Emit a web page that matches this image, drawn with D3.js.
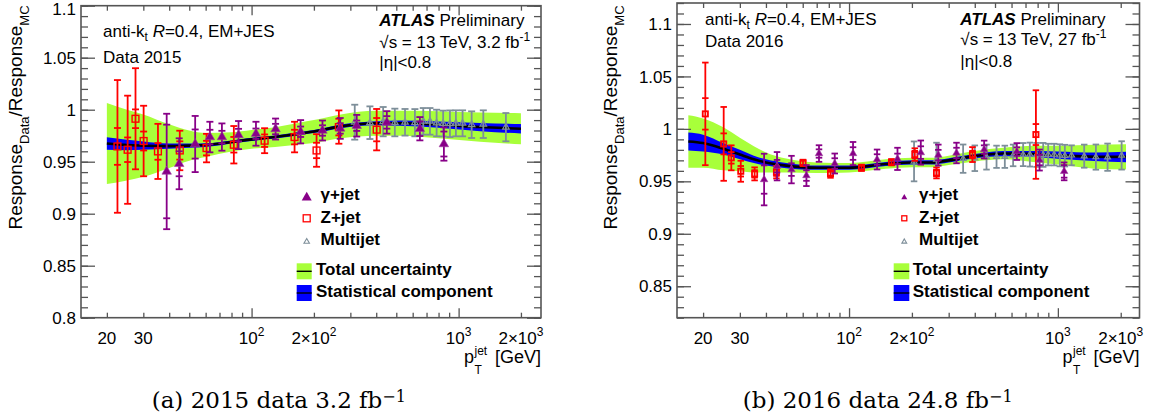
<!DOCTYPE html>
<html><head><meta charset="utf-8">
<script src="https://cdn.jsdelivr.net/npm/d3@7"></script>
<style>
body{margin:0;background:#fff}
svg{display:block}
text{font-family:"Liberation Sans",Arial,Helvetica,sans-serif;fill:#000}
</style>
</head><body>
<svg id="c" width="1156" height="419"></svg>
<script>
// ---------------- DATA ----------------
// Axis ticks
const xTickMajor = [100, 1000];
const xTickMinor = [20,30,40,50,60,70,80,90,200,300,400,500,600,700,800,900,2000];
const xTickLabelVals = [20, 30, 100, 200, 1000, 2000];
const xTickLabelBase = ["20", "30", "10", "2\u00d710", "10", "2\u00d710"];
const xTickLabelSup  = ["", "", "2", "2", "3", "3"];
const yTickVals15 = [0.8, 0.85, 0.9, 0.95, 1.0, 1.05, 1.1];
const yTickLabels15 = ["0.8", "0.85", "0.9", "0.95", "1", "1.05", "1.1"];
const yTickVals16 = [0.85, 0.9, 0.95, 1.0, 1.05, 1.1];
const yTickLabels16 = ["0.85", "0.9", "0.95", "1", "1.05", "1.1"];

// ---- 2015 ----
const zPt15   = [22.5, 25.2, 27.5, 30.1, 35.3, 45.0, 60.6, 82.1, 115.6, 161.3, 206, 264, 402];
const zVal15  = [0.9647, 0.9615, 0.9913, 0.9699, 0.9599, 0.9608, 0.9631, 0.9663, 0.9702, 0.9737, 0.9608, 0.9833, 0.9808];
const zTot15  = [0.0638, 0.052, 0.0486, 0.0339, 0.0265, 0.019, 0.0137, 0.018, 0.012, 0.0147, 0.0157, 0.016, 0.0199];
const zStat15 = [0.0177, 0.0118, 0.009, 0.0091, 0.008, 0.0088, 0.007, 0.0075, 0.006, 0.007, 0.0074, 0.008, 0.0112];

const gPt15   = [38.9, 44.7, 53.4, 62.9, 71.9, 86.5, 105, 130.6, 172.5, 220, 268, 322, 450, 650, 849];
const gVal15  = [0.9406, 0.948, 0.967, 0.9737, 0.9737, 0.9756, 0.9769, 0.9814, 0.9788, 0.980, 0.982, 0.9846, 0.9878, 0.9817, 0.967];
const gTot15  = [0.0555, 0.0245, 0.027, 0.0147, 0.0131, 0.0135, 0.0115, 0.0101, 0.0112, 0.0096, 0.010, 0.0104, 0.0108, 0.0112, 0.016];
const gStat15 = [0.045, 0.012, 0.014, 0.007, 0.006, 0.006, 0.005, 0.005, 0.005, 0.005, 0.005, 0.005, 0.006, 0.007, 0.012];

const mPt15  = [315, 373, 432, 492, 551, 615, 675, 727, 783, 842, 908, 970, 1045, 1156, 1316, 1692];
const mVal15 = [0.988, 0.9875, 0.9885, 0.9877, 0.9879, 0.9875, 0.9888, 0.9888, 0.9872, 0.9867, 0.9865, 0.9869, 0.9869, 0.9856, 0.9861, 0.9832];
const mTot15 = [0.0168, 0.0157, 0.0141, 0.0133, 0.0128, 0.0131, 0.0128, 0.0128, 0.0128, 0.0124, 0.0128, 0.0125, 0.0125, 0.0128, 0.0133, 0.0136];

const bandPt15   = [20, 25, 30, 40, 50, 60, 80, 100, 130, 170, 200, 270, 400, 520, 800, 1270, 2000];
const center15   = [0.9675, 0.966, 0.9655, 0.965, 0.9655, 0.966, 0.969, 0.9715, 0.9737, 0.977, 0.979, 0.984, 0.987, 0.987, 0.9856, 0.9833, 0.9817];
const totHalf15  = [0.039, 0.034, 0.030, 0.021, 0.0145, 0.0115, 0.0092, 0.009, 0.0095, 0.0105, 0.011, 0.0115, 0.012, 0.012, 0.013, 0.014, 0.015];
const statHalf15 = [0.006, 0.005, 0.004, 0.0025, 0.002, 0.0018, 0.0015, 0.0015, 0.0015, 0.0015, 0.0015, 0.0018, 0.002, 0.0025, 0.003, 0.004, 0.0045];

// ---- 2016 ----
const zPt16   = [20.5, 25.1, 27.3, 30.3, 35.3, 44.9, 60.2, 81.5, 114.7, 159.7, 206.5, 262.3, 390, 785];
const zVal16  = [1.0143, 0.9857, 0.9724, 0.9596, 0.9571, 0.9587, 0.9676, 0.9574, 0.9629, 0.9682, 0.9755, 0.958, 0.9755, 0.9946];
const zTot16  = [0.0489, 0.0352, 0.0119, 0.010, 0.0062, 0.0059, 0.003, 0.004, 0.003, 0.003, 0.006, 0.0052, 0.0071, 0.0422];
const zStat16 = [0.015, 0.010, 0.0055, 0.005, 0.0035, 0.0035, 0.002, 0.002, 0.002, 0.002, 0.0035, 0.003, 0.0035, 0.010];

const gPt16   = [39.2, 45.2, 53, 62.5, 71.8, 85.4, 104.5, 136.2, 170.6, 220.6, 267.6, 327, 443.6, 636, 817, 1072];
const gVal16  = [0.9517, 0.9644, 0.9612, 0.9555, 0.9765, 0.967, 0.9765, 0.9708, 0.9714, 0.9774, 0.975, 0.977, 0.9803, 0.9784, 0.9703, 0.9595];
const gTot16  = [0.0246, 0.0135, 0.0131, 0.010, 0.0079, 0.0095, 0.011, 0.0095, 0.0106, 0.0115, 0.010, 0.0098, 0.0085, 0.008, 0.010, 0.0085];
const gStat16 = [0.0135, 0.006, 0.006, 0.005, 0.004, 0.005, 0.006, 0.005, 0.005, 0.006, 0.005, 0.005, 0.004, 0.004, 0.005, 0.006];

const mPt16  = [204.8, 262.3, 351.8, 400.2, 455.3, 508.5, 557.2, 610.6, 681.9, 734.3, 790.6, 850.6, 898.7, 960, 1022, 1080, 1163, 1337, 1521, 1730, 2020];
const mVal16 = [0.969, 0.9708, 0.9716, 0.972, 0.9731, 0.9734, 0.9734, 0.9747, 0.9755, 0.9755, 0.9752, 0.9752, 0.9755, 0.9755, 0.9748, 0.9745, 0.9748, 0.974, 0.9731, 0.973, 0.9747];
const mTot16 = [0.019, 0.016, 0.0135, 0.0122, 0.0119, 0.0106, 0.0106, 0.0103, 0.011, 0.0114, 0.0114, 0.0114, 0.0103, 0.0103, 0.0105, 0.0103, 0.0095, 0.011, 0.012, 0.013, 0.0135];

const bandPt16   = [17, 20, 25, 30, 35, 40, 50, 70, 100, 150, 200, 250, 300, 400, 550, 800, 1000, 1500, 2120];
const center16   = [0.988, 0.9865, 0.981, 0.9755, 0.971, 0.968, 0.965, 0.963, 0.963, 0.9665, 0.968, 0.968, 0.970, 0.974, 0.9765, 0.976, 0.975, 0.9735, 0.9733];
const totHalf16  = [0.025, 0.0235, 0.0205, 0.016, 0.0125, 0.0095, 0.0067, 0.005, 0.0045, 0.0045, 0.0045, 0.0045, 0.0045, 0.005, 0.0055, 0.008, 0.009, 0.0114, 0.012];
const statHalf16 = [0.0085, 0.008, 0.0055, 0.0045, 0.0035, 0.003, 0.0025, 0.002, 0.002, 0.002, 0.002, 0.002, 0.002, 0.002, 0.0025, 0.003, 0.0035, 0.004, 0.005];

const legendLabels = ["\u03b3+jet", "Z+jet", "Multijet", "Total uncertainty", "Statistical component"];

// ---------------- STYLE ----------------
const C = {green:"#a8ff3a", blue:"#0000ff", red:"#ff0000", purple:"#880088", gray:"#7d8e99", axis:"#555"};

const svg = d3.select("#c");

function rich(g, x, y, parts, attrs) {
  const t = g.append("text").attr("x", x).attr("y", y);
  for (const k in (attrs||{})) t.attr(k, attrs[k]);
  let cur = 0;
  parts.forEach(p => {
    const s = t.append("tspan").text(p.t);
    const sh = p.shift || 0;
    s.attr("dy", sh - cur); cur = sh;
    if (p.size) s.attr("font-size", p.size);
    if (p.weight) s.attr("font-weight", p.weight);
    if (p.style) s.attr("font-style", p.style);
  });
  return t;
}

function triPath(w) {
  const area = Math.sqrt(3) / 4 * w * w;
  return d3.symbol().type(d3.symbolTriangle).size(area)();
}

function drawPanel(P) {
  const g = svg.append("g");
  const x = d3.scaleLog().domain(P.xDomain).range([P.left, P.right]);
  const y = d3.scaleLinear().domain(P.yDomain).range([P.bottom, P.top]);

  // bands
  const band = P.bandPt.map((pt, i) => ({pt, c: P.center[i], t: P.totHalf[i], s: P.statHalf[i]}));
  const cv = d3.curveMonotoneX;
  g.append("path").datum(band).attr("fill", C.green)
    .attr("d", d3.area().x(d => x(d.pt)).y0(d => y(d.c - d.t)).y1(d => y(d.c + d.t)).curve(cv));
  g.append("path").datum(band).attr("fill", C.blue)
    .attr("d", d3.area().x(d => x(d.pt)).y0(d => y(d.c - d.s)).y1(d => y(d.c + d.s)).curve(cv));
  g.append("path").datum(band).attr("fill", "none").attr("stroke", "#000").attr("stroke-width", 2.6)
    .attr("d", d3.line().x(d => x(d.pt)).y(d => y(d.c)).curve(cv));

  // series
  function series(pts, vals, tots, stats, color, marker, ms, cap, lw, sqw) {
    const data = pts.map((pt, i) => ({pt, v: vals[i], t: tots[i], s: stats ? stats[i] : null}));
    const sg = g.append("g").attr("stroke", color).attr("stroke-width", lw);
    data.forEach(d => {
      const cx = x(d.pt);
      sg.append("line").attr("x1", cx).attr("x2", cx).attr("y1", y(d.v - d.t)).attr("y2", y(d.v + d.t));
      [d.v - d.t, d.v + d.t].forEach(e => sg.append("line")
        .attr("x1", cx - cap / 2).attr("x2", cx + cap / 2).attr("y1", y(e)).attr("y2", y(e)));
      if (d.s !== null) [d.v - d.s, d.v + d.s].forEach(e => sg.append("line")
        .attr("x1", cx - cap / 2).attr("x2", cx + cap / 2).attr("y1", y(e)).attr("y2", y(e)));
    });
    const mg = g.append("g");
    data.forEach(d => {
      const cx = x(d.pt), cy = y(d.v);
      if (marker === "ftri") {
        mg.append("path").attr("d", triPath(ms)).attr("transform", `translate(${cx},${cy})`)
          .attr("fill", color).attr("stroke", "#a040a0").attr("stroke-width", 0.6);
      } else if (marker === "otri") {
        mg.append("path").attr("d", triPath(ms)).attr("transform", `translate(${cx},${cy})`)
          .attr("fill", "none").attr("stroke", color).attr("stroke-width", 1.2);
      } else {
        mg.append("rect").attr("x", cx - ms / 2).attr("y", cy - ms / 2).attr("width", ms).attr("height", ms)
          .attr("fill", "none").attr("stroke", color).attr("stroke-width", sqw);
      }
    });
  }
  series(P.mPt, P.mVal, P.mTot, null, C.gray, "otri", P.msM, P.cap, 1.8);
  series(P.zPt, P.zVal, P.zTot, P.zStat, C.red, "sq", P.msZ, P.cap, 1.8, P.sqw);
  series(P.gPt, P.gVal, P.gTot, P.gStat, C.purple, "ftri", P.msG, P.cap, 1.8);

  // axes ticks
  const ax = g.append("g").attr("stroke", C.axis);
  const style = sel => { sel.select(".domain").remove(); sel.selectAll("line").attr("stroke", C.axis).attr("stroke-width", 1.3); sel.selectAll("text").remove(); };
  ax.append("g").attr("transform", `translate(0,${P.bottom})`)
    .call(d3.axisBottom(x).tickValues(xTickMajor).tickSize(-9.5).tickSizeOuter(0).tickFormat("")).call(style);
  ax.append("g").attr("transform", `translate(0,${P.bottom})`)
    .call(d3.axisBottom(x).tickValues(xTickMinor).tickSize(-5).tickSizeOuter(0).tickFormat("")).call(style);
  ax.append("g").attr("transform", `translate(0,${P.top})`)
    .call(d3.axisTop(x).tickValues(xTickMajor).tickSize(-9.5).tickSizeOuter(0).tickFormat("")).call(style);
  ax.append("g").attr("transform", `translate(0,${P.top})`)
    .call(d3.axisTop(x).tickValues(xTickMinor).tickSize(-5).tickSizeOuter(0).tickFormat("")).call(style);
  const yMinor = d3.range(Math.round(P.yDomain[0] * 100), Math.round(P.yDomain[1] * 100) + 1).map(v => v / 100);
  ax.append("g").attr("transform", `translate(${P.left},0)`)
    .call(d3.axisLeft(y).tickValues(P.yTickVals).tickSize(-14).tickSizeOuter(0).tickFormat("")).call(style);
  ax.append("g").attr("transform", `translate(${P.left},0)`)
    .call(d3.axisLeft(y).tickValues(yMinor).tickSize(-7).tickSizeOuter(0).tickFormat("")).call(style);
  ax.append("g").attr("transform", `translate(${P.right},0)`)
    .call(d3.axisRight(y).tickValues(P.yTickVals).tickSize(-14).tickSizeOuter(0).tickFormat("")).call(style);
  ax.append("g").attr("transform", `translate(${P.right},0)`)
    .call(d3.axisRight(y).tickValues(yMinor).tickSize(-7).tickSizeOuter(0).tickFormat("")).call(style);

  // frame
  g.append("rect").attr("x", P.left).attr("y", P.top).attr("width", P.right - P.left).attr("height", P.bottom - P.top)
    .attr("fill", "none").attr("stroke", C.axis).attr("stroke-width", 1.6);

  // tick labels
  P.yTickVals.forEach((v, i) => {
    g.append("text").attr("x", P.left - 5).attr("y", Math.max(y(v) + 6.1, 15))
      .attr("text-anchor", "end").attr("font-size", 17).text(P.yTickLabels[i]);
  });
  xTickLabelVals.forEach((v, i) => {
    const parts = [{t: xTickLabelBase[i]}];
    if (xTickLabelSup[i]) parts.push({t: xTickLabelSup[i], shift: -8, size: 12});
    rich(g, x(v), P.bottom + 26, parts, {"text-anchor": "middle", "font-size": 17});
  });

  // axis titles
  const R = P.right;
  g.append("text").attr("x", R - 77).attr("y", 363.3).attr("font-size", 18).text("p");
  g.append("text").attr("x", R - 66.5).attr("y", 373.5).attr("font-size", 12).text("T");
  g.append("text").attr("x", R - 66.5).attr("y", 354.8).attr("font-size", 12).text("jet");
  g.append("text").attr("x", R).attr("y", 363.3).attr("font-size", 18).attr("text-anchor", "end").text("[GeV]");

  rich(g, 0, 0, [{t: "Response"}, {t: "Data", shift: 7, size: 13}, {t: "/Response"}, {t: "MC", shift: 7, size: 13}],
    {"text-anchor": "middle", "font-size": 19, transform: `translate(${P.yTitleX},117.5) rotate(-90)`});

  // annotations
  const A = P.ann;
  rich(g, A.lx, A.ly1, [{t: "anti-k"}, {t: "t", shift: 4, size: 12}, {t: " "}, {t: "R", style: "italic"}, {t: "=0.4, EM+JES"}], {"font-size": 17});
  g.append("text").attr("x", A.lx).attr("y", A.ly2).attr("font-size", 17).text(P.dataLabel);
  rich(g, A.rx, A.ry1, [{t: "ATLAS", weight: "bold", style: "italic"}, {t: " Preliminary"}], {"font-size": 17});
  rich(g, A.rx, A.ry2, [{t: "\u221as = 13 TeV, " + P.lumi + " fb"}, {t: "-1", shift: -7, size: 12}], {"font-size": 17});
  g.append("text").attr("x", A.rx).attr("y", A.ry3).attr("font-size", 17).text("|\u03b7|<0.8");

  // legend
  const L = P.leg;
  const lg = g.append("g");
  lg.append("path").attr("d", triPath(L.msG)).attr("transform", `translate(${L.mx},197.5)`).attr("fill", C.purple);
  lg.append("rect").attr("x", L.mx - L.msZ / 2).attr("y", 218.3 - L.msZ / 2).attr("width", L.msZ).attr("height", L.msZ)
    .attr("fill", "none").attr("stroke", C.red).attr("stroke-width", 1.3);
  lg.append("path").attr("d", triPath(L.msM)).attr("transform", `translate(${L.mx},241.7)`)
    .attr("fill", "none").attr("stroke", C.gray).attr("stroke-width", 1.1);
  [[C.green, 263.3], [C.blue, 285]].forEach(([col, yy]) => {
    lg.append("rect").attr("x", L.bx).attr("y", yy).attr("width", L.bw).attr("height", 16).attr("fill", col);
    lg.append("line").attr("x1", L.bx).attr("x2", L.bx + L.bw).attr("y1", yy + 8).attr("y2", yy + 8).attr("stroke", "#000").attr("stroke-width", 1.4);
  });
  const ly = [199.5, 222.5, 244.5, 274.5, 297];
  legendLabels.forEach((s, i) => {
    lg.append("text").attr("x", i < 3 ? L.tx1 : L.tx2).attr("y", ly[i]).attr("font-size", 17).attr("font-weight", "bold").text(s);
  });

  // caption
  rich(g, P.capX, 408, [{t: P.caption}, {t: "\u22121", shift: -6.5, size: 16}],
    {"font-size": 23, style: "font-family:'DejaVu Serif',serif"});
}

drawPanel({
  left: 81, right: 541, top: 5.7, bottom: 317.7, xDomain: [15, 2500], yDomain: [0.8, 1.1],
  yTickVals: yTickVals15, yTickLabels: yTickLabels15, yTitleX: 22,
  bandPt: bandPt15, center: center15, totHalf: totHalf15, statHalf: statHalf15,
  zPt: zPt15, zVal: zVal15, zTot: zTot15, zStat: zStat15,
  gPt: gPt15, gVal: gVal15, gTot: gTot15, gStat: gStat15,
  mPt: mPt15, mVal: mVal15, mTot: mTot15,
  msG: 9.5, msZ: 6.8, msM: 6.5, cap: 7, sqw: 1.4,
  ann: {lx: 103, ly1: 36.5, ly2: 63.3, rx: 379.3, ry1: 26, ry2: 48, ry3: 68},
  dataLabel: "Data 2015", lumi: "3.2",
  leg: {mx: 306.7, msG: 10, msZ: 7, msM: 5.5, bx: 296.7, bw: 15, tx1: 320.5, tx2: 316},
  caption: "(a) 2015 data 3.2 fb", capX: 151.7
});

drawPanel({
  left: 677, right: 1139.5, top: 3.0, bottom: 317.7, xDomain: [15, 2460], yDomain: [0.82, 1.12],
  yTickVals: yTickVals16, yTickLabels: yTickLabels16, yTitleX: 617,
  bandPt: bandPt16, center: center16, totHalf: totHalf16, statHalf: statHalf16,
  zPt: zPt16, zVal: zVal16, zTot: zTot16, zStat: zStat16,
  gPt: gPt16, gVal: gVal16, gTot: gTot16, gStat: gStat16,
  mPt: mPt16, mVal: mVal16, mTot: mTot16,
  msG: 7.5, msZ: 5.2, msM: 5.8, cap: 6.5, sqw: 1.8,
  ann: {lx: 705, ly1: 25, ly2: 46.5, rx: 960.3, ry1: 25, ry2: 45, ry3: 67},
  dataLabel: "Data 2016", lumi: "27",
  leg: {mx: 904.3, msG: 6, msZ: 5, msM: 4.8, bx: 893.7, bw: 15.6, tx1: 919, tx2: 912.7},
  caption: "(b) 2016 data 24.8 fb", capX: 742.7
});
</script>
</body></html>
